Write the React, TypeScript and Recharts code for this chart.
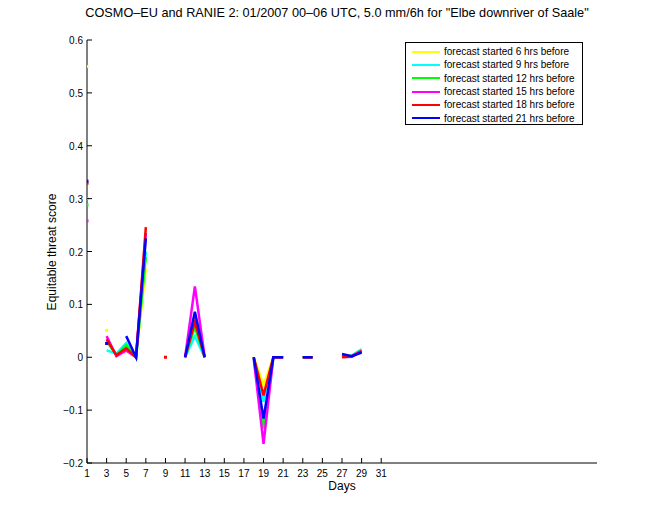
import React from "react";
import { LineChart, Line, XAxis, YAxis, Legend, Label } from "recharts";

const days = Array.from({ length: 31 }, (_, i) => i + 1);
const xTicks = [1, 3, 5, 7, 9, 11, 13, 15, 17, 19, 21, 23, 25, 27, 29, 31];
const yTicks = [0.6, 0.5, 0.4, 0.3, 0.2, 0.1, 0, -0.1, -0.2];

const n = null;
// day:            1      2  3      4      5      6    7      8  9  10 11 12     13 14 15 16 17 18      19      20 21 22 23 24 25 26 27     28     29     30 31
const fc6h  = [0.55,  n, 0.051, n,     0.012, 0, 0.168, n, n, n, 0, 0.075, 0, n, n, n, n, 0,      -0.053, 0, 0, n, 0, 0, n, n, 0.003, 0.003, 0.015, n, n];
const fc9h  = [0.30,  n, 0.013, 0.007, 0.027, 0, 0.2,   n, n, n, 0, 0.04,  0, n, n, n, n, 0,      -0.084, 0, 0, n, 0, 0, n, n, 0.003, 0.003, 0.015, n, n];
const fc12h = [0.288, n, 0.03,  0.004, 0.023, 0, 0.19,  n, n, n, 0, 0.057, 0, n, n, n, n, 0,      -0.135, 0, 0, n, 0, 0, n, n, 0.003, 0.002, 0.013, n, n];
const fc15h = [0.258, n, 0.04,  0.002, 0.013, 0, 0.235, n, n, n, 0, 0.134, 0, n, n, n, n, -0.003, -0.164, 0, 0, n, 0, 0, n, n, 0.002, 0.002, 0.012, n, n];
const fc18h = [0.329, n, 0.034, 0.004, 0.017, 0, 0.246, n, 0, n, 0, 0.067, 0, n, n, n, n, 0,      -0.072, 0, 0, n, 0, 0, n, n, 0.0,   0.001, 0.011, n, n];
const fc21h = [0.333, n, 0.026, n,     0.04,  0, 0.225, n, n, n, 0, 0.086, 0, n, n, n, n, 0,      -0.116, 0, 0, n, 0, 0, n, n, 0.006, 0.002, 0.009, n, n];

const seriesNames = [
  "forecast started 6 hrs before",
  "forecast started 9 hrs before",
  "forecast started 12 hrs before",
  "forecast started 15 hrs before",
  "forecast started 18 hrs before",
  "forecast started 21 hrs before",
];
const seriesColors = ["#ffff00", "#00ffff", "#00ff00", "#ff00ff", "#ff0000", "#0000ff"];
const seriesValues = [fc6h, fc9h, fc12h, fc15h, fc18h, fc21h];
const keys = ["s6", "s9", "s12", "s15", "s18", "s21"];

const data = days.map((d, i) => {
  const row: any = { day: d };
  keys.forEach((k, j) => {
    row[k] = seriesValues[j][i];
  });
  return row;
});

const FONT = "'Liberation Sans', Arial, Helvetica, sans-serif";

const XTick = (props: any) => {
  const { x, y, payload } = props;
  return (
    <g>
      <line x1={x} x2={x} y1={y} y2={y - 5} stroke="#000" strokeWidth={1} />
      <text x={x} y={y + 14} textAnchor="middle" fontSize={10} fontFamily={FONT} fill="#000">
        {payload.value}
      </text>
    </g>
  );
};

const fmtY = (v: number) => {
  if (v === 0) return "0";
  const s = Math.abs(v).toFixed(1);
  return v < 0 ? "\u2212" + s : s;
};

const YTick = (props: any) => {
  const { x, y, payload } = props;
  return (
    <g>
      <line x1={x} x2={x + 5} y1={y} y2={y} stroke="#000" strokeWidth={1} />
      <text x={x - 4} y={y + 4} textAnchor="end" fontSize={10} fontFamily={FONT} fill="#000">
        {fmtY(payload.value)}
      </text>
    </g>
  );
};

const makeDot = (arr: (number | null)[], color: string) => (props: any) => {
  const { cx, cy, index } = props;
  const v = arr[index];
  const prev = index > 0 ? arr[index - 1] : null;
  const next = index < arr.length - 1 ? arr[index + 1] : null;
  if (v == null || prev != null || next != null || cx == null || cy == null) {
    return <g key={"d" + index} />;
  }
  return <rect key={"d" + index} x={cx - 1.5} y={cy - 1.5} width={3} height={3} fill={color} />;
};

const LegendBox = () => (
  <div
    style={{
      border: "1px solid #000",
      background: "#fff",
      width: 178,
      height: 83,
      boxSizing: "border-box",
      paddingTop: 2,
      fontFamily: FONT,
      fontSize: 10,
      textAlign: "left",
    }}
  >
    {seriesNames.map((name, i) => (
      <div key={name} style={{ display: "flex", alignItems: "center", height: 13.3 }}>
        <div style={{ width: 28, height: 2, background: seriesColors[i], marginLeft: 6, marginRight: 4 }} />
        <span style={{ whiteSpace: "nowrap", color: "#000" }}>{name}</span>
      </div>
    ))}
  </div>
);

export default function App() {
  return (
    <div style={{ position: "absolute", left: 0, top: 0, width: 660, height: 520, background: "#fff" }}>
      <div
        style={{
          position: "absolute",
          left: 0,
          top: 6,
          width: 674,
          textAlign: "center",
          fontFamily: FONT,
          fontSize: 12.7,
          color: "#000",
          whiteSpace: "nowrap",
        }}
      >
        COSMO–EU and RANIE 2: 01/2007 00–06 UTC, 5.0 mm/6h for "Elbe downriver of Saale"
      </div>
      <LineChart
        width={660}
        height={520}
        data={data}
        margin={{ top: 40, right: 63, bottom: 27, left: 47 }}
      >
        <XAxis
          dataKey="day"
          type="number"
          domain={[1, 53]}
          ticks={xTicks}
          allowDataOverflow
          height={30}
          tickSize={0}
          tickMargin={0}
          tickLine={false}
          axisLine={{ stroke: "#000", strokeWidth: 1 }}
          tick={<XTick />}
          interval={0}
        >
          <Label
            content={() => (
              <text x={342} y={490} textAnchor="middle" fontSize={12} fontFamily={FONT} fill="#000">
                Days
              </text>
            )}
          />
        </XAxis>
        <YAxis
          type="number"
          domain={[-0.2, 0.6]}
          ticks={yTicks}
          allowDataOverflow
          width={40}
          tickSize={0}
          tickMargin={0}
          tickLine={false}
          axisLine={{ stroke: "#000", strokeWidth: 1 }}
          tick={<YTick />}
          interval={0}
        >
          <Label
            content={() => (
              <text
                x={56}
                y={252}
                textAnchor="middle"
                fontSize={12}
                fontFamily={FONT}
                fill="#000"
                transform="rotate(-90 56 252)"
              >
                Equitable threat score
              </text>
            )}
          />
        </YAxis>
        {keys.map((k, j) => (
          <Line
            key={k}
            type="linear"
            dataKey={k}
            name={seriesNames[j]}
            stroke={seriesColors[j]}
            strokeWidth={2.5}
            dot={makeDot(seriesValues[j], seriesColors[j])}
            activeDot={false}
            isAnimationActive={false}
            connectNulls={false}
          />
        ))}
        <Legend
          layout="vertical"
          verticalAlign="middle"
          align="center"
          content={<LegendBox />}
          wrapperStyle={{ position: "absolute", left: 405, top: 42, width: 178 }}
        />
      </LineChart>
    </div>
  );
}
